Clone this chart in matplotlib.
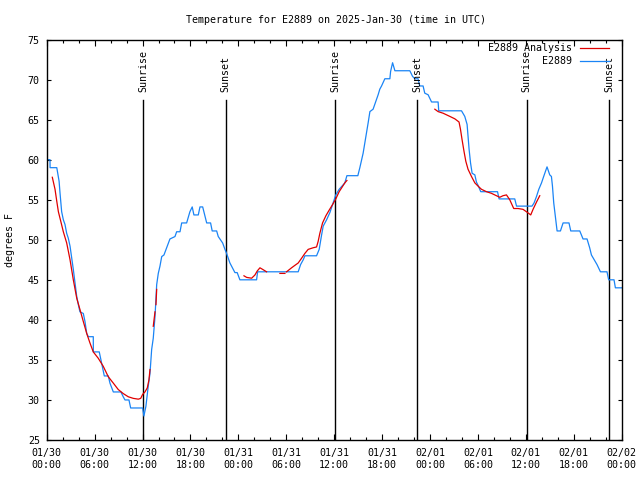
#%%
import numpy as np
import matplotlib
matplotlib.use('Agg')
import matplotlib.pyplot as plt
import matplotlib.transforms as mtransforms

#%% data (hours since 2025-01-30 00:00 UTC, degrees F)
title = 'Temperature for E2889 on 2025-Jan-30 (time in UTC)'

# station observations
obs = [(0.0, 60.0), (0.41, 60.0), (0.42, 59.0), (1.26, 59.0), (1.55, 57.3), (1.66, 55.9),
       (1.87, 53.5), (2.08, 52.5), (2.29, 51.9), (2.50, 50.8), (2.70, 50.2), (2.92, 49.2),
       (3.13, 47.7), (3.33, 46.3), (3.54, 44.6), (3.76, 42.9), (3.96, 41.9), (4.16, 41.0),
       (4.58, 40.8), (4.79, 39.8), (5.01, 38.3), (5.21, 37.9), (5.83, 37.9), (5.84, 36.0),
       (6.58, 36.0), (6.88, 34.6), (7.21, 33.0), (7.71, 33.0), (7.92, 32.1), (8.34, 31.0),
       (9.29, 31.0), (9.58, 30.4), (9.80, 30.0), (10.30, 30.0), (10.51, 29.0), (12.01, 29.0),
       (12.17, 28.0), (12.42, 29.2), (12.71, 31.7), (12.93, 33.3), (13.14, 36.3), (13.34, 37.7),
       (13.56, 40.4), (13.77, 44.4), (13.97, 45.8), (14.18, 46.7), (14.40, 47.9), (14.68, 48.1),
       (15.02, 49.0), (15.43, 50.1), (16.06, 50.4), (16.27, 51.0), (16.69, 51.0), (16.90, 52.1),
       (17.52, 52.1), (17.93, 53.5), (18.22, 54.1), (18.43, 53.1), (18.98, 53.1), (19.19, 54.1),
       (19.53, 54.1), (20.03, 52.1), (20.52, 52.1), (20.72, 51.1), (21.28, 51.1), (21.48, 50.4),
       (21.69, 50.1), (22.03, 49.6), (22.32, 48.8), (22.52, 48.3), (22.94, 47.1), (23.35, 46.3),
       (23.57, 45.9), (23.85, 45.9), (24.19, 45.0), (26.28, 45.0), (26.41, 46.0), (31.49, 46.0),
       (31.79, 46.9), (32.12, 47.5), (32.33, 48.0), (33.79, 48.0), (34.12, 48.8), (34.42, 50.6),
       (34.62, 51.7), (35.05, 52.5), (35.46, 53.4), (35.87, 54.6), (36.20, 55.6), (36.62, 56.3),
       (37.33, 57.1), (37.59, 58.0), (38.96, 58.0), (39.21, 59.0), (39.62, 60.8), (39.84, 62.1),
       (40.05, 63.3), (40.25, 64.6), (40.47, 66.0), (40.87, 66.3), (41.08, 66.9), (41.30, 67.5),
       (41.50, 68.1), (41.71, 68.8), (41.93, 69.2), (42.34, 70.1), (42.97, 70.1), (43.06, 71.0),
       (43.31, 72.1), (43.60, 71.1), (45.47, 71.1), (45.81, 70.4), (46.10, 70.1), (46.50, 70.1),
       (46.71, 69.2), (47.13, 69.2), (47.34, 68.3), (47.76, 68.1), (48.19, 67.2), (49.01, 67.2),
       (49.09, 66.1), (51.94, 66.1), (52.35, 65.4), (52.64, 64.4), (52.76, 62.9), (52.89, 61.3),
       (53.07, 59.6), (53.27, 58.3), (53.61, 58.1), (53.81, 57.2), (54.01, 56.8), (54.35, 56.0),
       (56.45, 56.0), (56.65, 55.1), (58.61, 55.1), (58.83, 54.2), (60.77, 54.2), (61.03, 54.6),
       (61.33, 55.4), (61.62, 56.3), (61.96, 57.1), (62.23, 57.9), (62.65, 59.1), (62.99, 58.1),
       (63.20, 57.9), (63.33, 56.7), (63.49, 54.6), (63.70, 52.9), (63.91, 51.1), (64.33, 51.1),
       (64.66, 52.1), (65.40, 52.1), (65.62, 51.1), (66.75, 51.1), (67.16, 50.1), (67.66, 50.1),
       (67.99, 49.0), (68.21, 48.1), (68.62, 47.4), (68.91, 46.9), (69.34, 46.0), (70.16, 46.0),
       (70.37, 45.0), (71.04, 45.0), (71.21, 44.0), (72.0, 44.0)]

# analysis (nan = gap)
nan = np.nan
ana = [(0.70, 57.8), (1.04, 56.3), (1.26, 54.8), (1.46, 53.5), (1.76, 52.3), (2.08, 51.0),
       (2.50, 49.6), (2.92, 47.5), (3.33, 45.0), (3.76, 42.7), (4.16, 41.3), (4.58, 39.8),
       (5.01, 38.3), (5.42, 37.1), (5.83, 36.0), (6.46, 35.2), (7.08, 34.2), (7.71, 32.9),
       (8.34, 32.1), (8.96, 31.3), (9.58, 30.8), (10.21, 30.4), (10.84, 30.2), (11.47, 30.1),
       (11.77, 30.2), (12.01, 30.7), (12.30, 31.0), (12.59, 31.5), (12.80, 32.5), (12.93, 33.8),
       (13.1, nan), (13.34, 39.2), (13.56, 41.0), (13.6, nan), (13.68, 41.9), (13.77, 43.8),
       (20.0, nan),
       (24.70, 45.5), (25.04, 45.3), (25.66, 45.2), (26.07, 45.6), (26.36, 46.1), (26.70, 46.5),
       (27.04, 46.3), (27.53, 46.0), (28.0, nan), (29.20, 45.8), (29.83, 45.8), (29.9, nan),
       (30.03, 46.0), (30.66, 46.5), (31.07, 46.8), (31.49, 47.1), (31.92, 47.7), (32.33, 48.3),
       (32.74, 48.8), (33.36, 49.0), (33.79, 49.1), (33.99, 49.8), (34.20, 50.8), (34.54, 52.1),
       (34.96, 53.0), (35.37, 53.7), (35.80, 54.4), (36.20, 55.1), (36.62, 56.0), (37.33, 57.1),
       (37.59, 57.4), (40.0, nan),
       (48.60, 66.3), (49.01, 66.0), (49.63, 65.8), (50.48, 65.4), (51.10, 65.1), (51.63, 64.7),
       (51.81, 63.8), (52.01, 62.5), (52.26, 61.0), (52.48, 59.8), (52.76, 58.8), (53.19, 57.9),
       (53.61, 57.1), (54.01, 56.7), (54.44, 56.3), (55.07, 56.0), (55.68, 55.8), (56.31, 55.5),
       (56.73, 55.3), (57.14, 55.5), (57.57, 55.6), (57.98, 55.0), (58.48, 53.9), (59.02, 53.9),
       (59.64, 53.8), (60.07, 53.5), (60.61, 53.1), (60.90, 53.8), (61.33, 54.7), (61.74, 55.5)]

sunrise = [12.07, 36.1, 60.1]
sunset = [22.4, 46.4, 70.45]

xtick_hours = list(range(0, 73, 6))
xtick_labels = ['01/30\n00:00', '01/30\n06:00', '01/30\n12:00', '01/30\n18:00',
                '01/31\n00:00', '01/31\n06:00', '01/31\n12:00', '01/31\n18:00',
                '02/01\n00:00', '02/01\n06:00', '02/01\n12:00', '02/01\n18:00',
                '02/02\n00:00']
yticks = list(range(25, 76, 5))

#%% plot
plt.rcParams['font.family'] = ['DejaVu Sans Mono']
plt.rcParams['font.size'] = 7.2

fig = plt.figure(figsize=(6.4, 4.8), dpi=100)
ax = fig.add_axes([0.073, 0.0833, 0.8984, 0.8344])

obs_h, obs_t = zip(*obs)
ana_h, ana_t = zip(*ana)
ax.plot(ana_h, ana_t, color='#e00000', lw=0.9, label='E2889 Analysis', zorder=3)
ax.plot(obs_h, obs_t, color='#1a84f5', lw=0.9, label='E2889', zorder=2)

# sunrise / sunset markers
trans = mtransforms.blended_transform_factory(ax.transData, ax.transAxes)
for name, hours in [('Sunrise', sunrise), ('Sunset', sunset)]:
    for h in hours:
        ax.axvline(h, ymin=0, ymax=0.85, color='k', lw=1.0, zorder=1)
        ax.text(h, 0.87, name, transform=trans, rotation=90,
                ha='center', va='bottom')

ax.set_xlim(0, 72)
ax.set_ylim(25, 75)
ax.set_xticks(xtick_hours)
ax.set_xticklabels(xtick_labels)
ax.set_xticks(np.arange(0, 73, 2), minor=True)
ax.set_yticks(yticks)

ax.tick_params(axis='x', which='major', direction='in', length=4.3, width=0.8,
               top=True, pad=6)
ax.tick_params(axis='x', which='minor', direction='in', length=2.2, width=0.8, top=True)
ax.tick_params(axis='y', which='major', direction='in', length=3.2, width=0.8,
               right=True, pad=5)
for s in ax.spines.values():
    s.set_linewidth(1.0)

fig.text(336 / 640, 1 - 20 / 480, title, ha='center', va='center')
fig.text(10 / 640, 0.5, 'degrees F', rotation=90, ha='center', va='center')

ax.legend(loc='upper right', bbox_to_anchor=(0.99, 1.008), frameon=False,
          markerfirst=False, handlelength=2.9, labelspacing=0.3,
          borderaxespad=0.3, handletextpad=0.8)

fig.savefig('out.png', dpi=100)
